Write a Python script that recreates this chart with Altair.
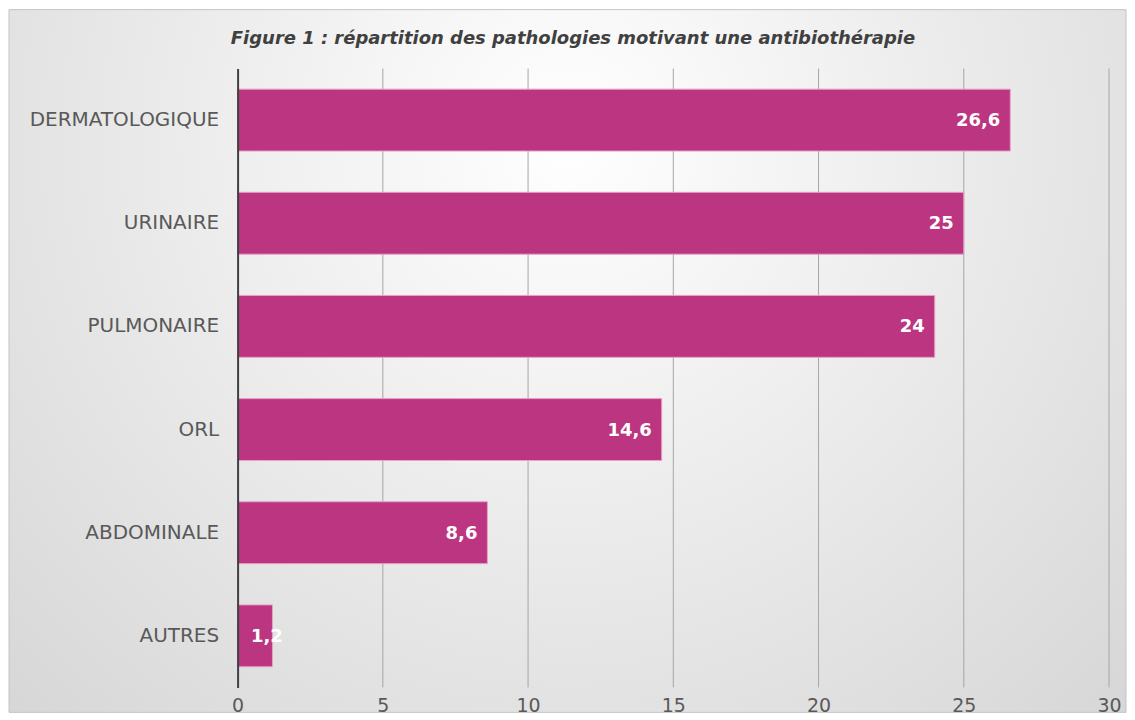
import altair as alt
import pandas as pd

categories = ["DERMATOLOGIQUE", "URINAIRE", "PULMONAIRE", "ORL", "ABDOMINALE", "AUTRES"]
values = [26.6, 25, 24, 14.6, 8.6, 1.2]
x_ticks = [0, 5, 10, 15, 20, 25, 30]
title_text = "Figure 1 : répartition des pathologies motivant une antibiothérapie"

df = pd.DataFrame({"cat": categories, "value": values})
ticks_df = pd.DataFrame({"t": x_ticks[1:]})

FONT = "DejaVu Sans"
W, H = 873, 620

bg = alt.Chart(pd.DataFrame({"a": [0]})).mark_rect(
    color={
        "gradient": "radial",
        "stops": [
            {"offset": 0, "color": "#ffffff"},
            {"offset": 1, "color": "#d2d2d2"},
        ],
        "x1": 0.5, "y1": 0.3, "r1": 0,
        "x2": 0.5, "y2": 0.3, "r2": 0.8,
    },
    stroke="#c4c4c4",
    strokeWidth=1,
).encode(
    x=alt.value(-229), x2=alt.value(890),
    y=alt.value(-59), y2=alt.value(645),
)

title = alt.Chart(pd.DataFrame({"txt": [title_text]})).mark_text(
    font=FONT, fontSize=18, fontStyle="italic", fontWeight="bold",
    color="#404040", align="center", baseline="middle",
).encode(x=alt.value(336), y=alt.value(-30), text="txt:N")

y_enc = alt.Y(
    "cat:N",
    sort=categories,
    scale=alt.Scale(paddingInner=0.4, paddingOuter=0.2),
    axis=alt.Axis(
        title=None,
        labelFont=FONT,
        labelFontSize=20,
        labelColor="#595959",
        labelPadding=19,
        labelLimit=400,
        ticks=False,
        domainColor="#404040",
        domainWidth=2,
        grid=False,
        zindex=1,
    ),
)

x_enc = alt.X(
    "value:Q",
    scale=alt.Scale(domain=[0, 30], nice=False),
    axis=alt.Axis(
        title=None,
        values=x_ticks,
        labelFont=FONT,
        labelFontSize=19,
        labelColor="#595959",
        labelPadding=9,
        labelFlush=False,
        ticks=False,
        domain=False,
        grid=False,
        zindex=1,
    ),
)

grid = alt.Chart(ticks_df).mark_rule(color="#a6a6a6", strokeWidth=1).encode(
    x=alt.X("t:Q")
)

bars = alt.Chart(df).mark_bar(
    color="#bc3580", stroke="#e6a3c6", strokeWidth=1
).encode(x=x_enc, y=y_enc)

labels = alt.Chart(df).transform_calculate(
    lbl="replace(toString(datum.value), '.', ',')",
    pos="max(datum.value, 1.9)",
).mark_text(
    align="right", baseline="middle", dx=-10, dy=1,
    font=FONT, fontSize=18, fontWeight="bold", color="white",
).encode(
    x=alt.X("pos:Q"),
    y=alt.Y("cat:N", sort=categories),
    text="lbl:N",
)

chart = alt.layer(bg, title, grid, bars, labels).properties(
    width=W,
    height=H,
    padding=0,
).configure_view(stroke=None).configure(background="white")

chart.save("out.html", embed_options={"renderer": "svg", "actions": False})
